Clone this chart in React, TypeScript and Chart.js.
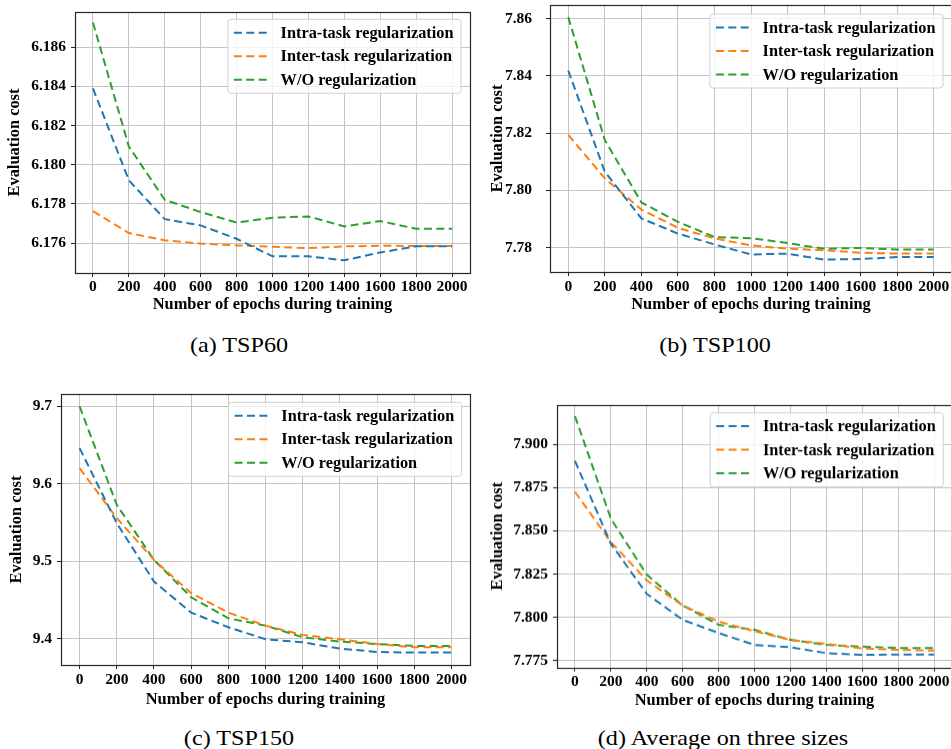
import React, { useEffect, useRef } from "react";
import { Chart, registerables } from "chart.js";

Chart.register(...registerables);

// ---------- data ----------
const EPOCHS = [0, 200, 400, 600, 800, 1000, 1200, 1400, 1600, 1800, 2000];
const SERIES_LABELS = ["Intra-task regularization", "Inter-task regularization", "W/O regularization"];
const SERIES_COLORS = ["#1f77b4", "#ff7f0e", "#2ca02c"];

// (a) TSP60
const TSP60_INTRA = [6.1839, 6.1792, 6.17722, 6.1769, 6.17622, 6.17532, 6.17532, 6.17512, 6.17552, 6.17583, 6.17583];
const TSP60_INTER = [6.17763, 6.17651, 6.17614, 6.17597, 6.17588, 6.17581, 6.17574, 6.17583, 6.17586, 6.17585, 6.17585];
const TSP60_WO = [6.18726, 6.18093, 6.17821, 6.17758, 6.17705, 6.17729, 6.17736, 6.17685, 6.17712, 6.17673, 6.17673];
const TSP60_YTICKS = [6.176, 6.178, 6.18, 6.182, 6.184, 6.186];

// (b) TSP100
const TSP100_INTRA = [7.8419, 7.8065, 7.7902, 7.7849, 7.7811, 7.7776, 7.7779, 7.7758, 7.776, 7.7767, 7.7767];
const TSP100_INTER = [7.8194, 7.8042, 7.7933, 7.7869, 7.7832, 7.7808, 7.7796, 7.7791, 7.7782, 7.7779, 7.7779];
const TSP100_WO = [7.8606, 7.8176, 7.7958, 7.789, 7.7837, 7.7833, 7.7816, 7.7796, 7.7799, 7.7793, 7.7793];
const TSP100_YTICKS = [7.78, 7.8, 7.82, 7.84, 7.86];

// (c) TSP150
const TSP150_INTRA = [9.6462, 9.5494, 9.4741, 9.434, 9.4151, 9.3996, 9.3957, 9.3875, 9.3832, 9.3824, 9.3824];
const TSP150_INTER = [9.6204, 9.5558, 9.502, 9.459, 9.434, 9.4172, 9.4052, 9.3996, 9.3935, 9.3892, 9.3892];
const TSP150_WO = [9.7, 9.573, 9.502, 9.4538, 9.4267, 9.4172, 9.4022, 9.3966, 9.3935, 9.391, 9.391];
const TSP150_YTICKS = [9.4, 9.5, 9.6, 9.7];

// (d) Average on three sizes
const AVG_INTRA = [7.8905, 7.8426, 7.8136, 7.7986, 7.791, 7.7841, 7.7827, 7.7793, 7.7783, 7.7785, 7.7785];
const AVG_INTER = [7.8726, 7.8436, 7.8214, 7.8069, 7.7976, 7.792, 7.787, 7.7847, 7.7821, 7.7812, 7.7808];
const AVG_WO = [7.9164, 7.8571, 7.8247, 7.8069, 7.7957, 7.7928, 7.787, 7.7841, 7.7831, 7.7823, 7.7823];
const AVG_YTICKS = [7.775, 7.8, 7.825, 7.85, 7.875, 7.9];

const X_TITLE = "Number of epochs during training";
const Y_TITLE = "Evaluation cost";
const CAPTIONS = ["(a) TSP60", "(b) TSP100", "(c) TSP150", "(d) Average on three sizes"];

// ---------- style ----------
const FONT = "'Liberation Serif', 'Times New Roman', serif";
const TICK_SIZE = 15.5;
const TITLE_SIZE = 16.4;
const LEGEND_SIZE = 16.3;
const TICK_LEN = 4;
const GRID = "#c4c4c4";
const DASH = [8, 4.4];

type Geo = {
  canvasLeft: number;
  canvasWidth: number;
  L: number; T: number; R: number; B: number;
  yLabelRight: number; yTitleX: number;
  xTickY: number; xTitleY: number;
  legTop: number; legRight: number;
};

type PanelProps = {
  geo: Geo;
  series: number[][];
  yTicks: number[];
  yMin: number;
  yMax: number;
  decimals: number;
};

function Panel({ geo, series, yTicks, yMin, yMax, decimals }: PanelProps) {
  const ref = useRef<HTMLCanvasElement | null>(null);
  const canvasTop = geo.T - 12;
  const canvasBottom = geo.xTitleY + 20;
  const canvasHeight = canvasBottom - canvasTop;

  useEffect(() => {
    if (!ref.current) return;
    const tickLh = TICK_SIZE * 1.2;
    const titleLh = TITLE_SIZE * 1.2;

    const framePlugin = {
      id: "frame",
      afterDatasetsDraw(chart: any) {
        const { ctx, chartArea } = chart;
        ctx.save();
        ctx.strokeStyle = "#262626";
        ctx.lineWidth = 1.2;
        ctx.setLineDash([]);
        ctx.strokeRect(
          Math.round(chartArea.left) + 0.5,
          Math.round(chartArea.top) + 0.5,
          Math.round(chartArea.right - chartArea.left),
          Math.round(chartArea.bottom - chartArea.top)
        );
        ctx.restore();
      },
    };

    const legendPlugin = {
      id: "boxLegend",
      afterDraw(chart: any) {
        const { ctx, chartArea } = chart;
        const ds = chart.data.datasets;
        ctx.save();
        ctx.font = `bold ${LEGEND_SIZE}px ${FONT}`;
        const textW = Math.max(...ds.map((d: any) => ctx.measureText(d.label).width));
        const padL = 6, handle = 34.4, gap = 12.3, padR = 7.5, padT = 13.4, rowH = 23.5, padB = 13.6;
        const w = padL + handle + gap + textW + padR;
        const h = padT + rowH * (ds.length - 1) + padB;
        const x = chartArea.right - geo.legRight - w;
        const y = chartArea.top + geo.legTop;
        ctx.beginPath();
        (ctx as any).roundRect(x, y, w, h, 3);
        ctx.fillStyle = "rgba(255,255,255,0.8)";
        ctx.fill();
        ctx.strokeStyle = "#d0d0d0";
        ctx.lineWidth = 1;
        ctx.stroke();
        ds.forEach((d: any, i: number) => {
          const cy = y + padT + rowH * i;
          ctx.beginPath();
          ctx.setLineDash(DASH);
          ctx.strokeStyle = d.borderColor;
          ctx.lineWidth = 2;
          ctx.moveTo(x + padL, cy);
          ctx.lineTo(x + padL + handle, cy);
          ctx.stroke();
          ctx.setLineDash([]);
          ctx.fillStyle = "#000";
          ctx.textBaseline = "middle";
          ctx.textAlign = "left";
          ctx.fillText(d.label, x + padL + handle + gap, cy + 1);
        });
        ctx.restore();
      },
    };

    const chart = new Chart(ref.current, {
      type: "line",
      data: {
        datasets: series.map((vals, i) => ({
          label: SERIES_LABELS[i],
          data: EPOCHS.map((x, j) => ({ x, y: vals[j] })),
          borderColor: SERIES_COLORS[i],
          backgroundColor: SERIES_COLORS[i],
          borderWidth: 2,
          borderDash: DASH,
          pointRadius: 0,
          fill: false,
          tension: 0,
        })),
      },
      options: {
        responsive: false,
        maintainAspectRatio: false,
        animation: false,
        events: [],
        layout: {
          padding: {
            top: geo.T - canvasTop,
            left: 0,
            right: geo.canvasLeft + geo.canvasWidth - geo.R,
            bottom: 0,
          },
        },
        plugins: {
          legend: { display: false },
          tooltip: { enabled: false },
        },
        scales: {
          x: {
            type: "linear",
            min: -100,
            max: 2100,
            afterBuildTicks: (s: any) => {
              s.ticks = EPOCHS.map((v) => ({ value: v }));
            },
            afterFit: (s: any) => {
              s.height = canvasBottom - geo.B;
              s.paddingLeft = 0;
              s.paddingRight = 0;
            },
            ticks: {
              autoSkip: false,
              maxRotation: 0,
              minRotation: 0,
              color: "#000",
              font: { family: FONT, size: TICK_SIZE, weight: "bold" },
              padding: geo.xTickY - geo.B - TICK_LEN - tickLh / 2,
              callback: (v: any) => String(v),
            },
            grid: { color: GRID, lineWidth: 1, tickLength: TICK_LEN, tickColor: "#222", drawTicks: true },
            border: { display: false },
            title: {
              display: true,
              text: X_TITLE,
              color: "#000",
              font: { family: FONT, size: TITLE_SIZE, weight: "bold" },
              padding: { top: 0, bottom: canvasBottom - geo.xTitleY - titleLh / 2 },
            },
          },
          y: {
            type: "linear",
            min: yMin,
            max: yMax,
            afterBuildTicks: (s: any) => {
              s.ticks = yTicks.map((v) => ({ value: v }));
            },
            afterFit: (s: any) => {
              s.width = geo.L - geo.canvasLeft;
              s.paddingTop = 0;
              s.paddingBottom = 0;
            },
            ticks: {
              autoSkip: false,
              color: "#000",
              font: { family: FONT, size: TICK_SIZE, weight: "bold" },
              padding: geo.L - geo.yLabelRight - TICK_LEN,
              callback: (v: any) => Number(v).toFixed(decimals),
            },
            grid: { color: GRID, lineWidth: 1, tickLength: TICK_LEN, tickColor: "#222", drawTicks: true },
            border: { display: false },
            title: {
              display: true,
              text: Y_TITLE,
              color: "#000",
              font: { family: FONT, size: TITLE_SIZE, weight: "bold" },
              padding: { top: geo.yTitleX - geo.canvasLeft - titleLh / 2, bottom: 0 },
            },
          },
        },
      } as any,
      plugins: [framePlugin, legendPlugin],
    });
    return () => chart.destroy();
  }, []);

  return (
    <canvas
      ref={ref}
      width={geo.canvasWidth}
      height={canvasHeight}
      style={{
        position: "absolute",
        left: geo.canvasLeft,
        top: canvasTop,
        width: geo.canvasWidth,
        height: canvasHeight,
      }}
    />
  );
}

const GEO_A: Geo = { canvasLeft: 0, canvasWidth: 475, L: 75, T: 12, R: 470, B: 273, yLabelRight: 66, yTitleX: 15, xTickY: 287, xTitleY: 305, legTop: 7.3, legRight: 9 };
const GEO_B: Geo = { canvasLeft: 475, canvasWidth: 495, L: 550, T: 5, R: 952, B: 272, yLabelRight: 532, yTitleX: 498, xTickY: 287, xTitleY: 305, legTop: 9, legRight: 9 };
const GEO_C: Geo = { canvasLeft: 0, canvasWidth: 475, L: 61, T: 394, R: 470, B: 665, yLabelRight: 52, yTitleX: 16.5, xTickY: 680, xTitleY: 700, legTop: 8.3, legRight: 8.3 };
const GEO_D: Geo = { canvasLeft: 475, canvasWidth: 495, L: 557, T: 405, R: 952, B: 667, yLabelRight: 548, yTitleX: 498, xTickY: 681.5, xTitleY: 700.5, legTop: 7.7, legRight: 8.7 };

const CAPTION_POS = [
  { x: 238.5, y: 345 },
  { x: 714.5, y: 345 },
  { x: 239, y: 738 },
  { x: 723, y: 738 },
];

export default function App() {
  return (
    <div
      style={{
        position: "fixed",
        left: 0,
        top: 0,
        width: 951,
        height: 749,
        overflow: "hidden",
        background: "#fff",
      }}
    >
      <Panel geo={GEO_A} series={[TSP60_INTRA, TSP60_INTER, TSP60_WO]} yTicks={TSP60_YTICKS} yMin={6.17447} yMax={6.1878} decimals={3} />
      <Panel geo={GEO_B} series={[TSP100_INTRA, TSP100_INTER, TSP100_WO]} yTicks={TSP100_YTICKS} yMin={7.77147} yMax={7.8648} decimals={2} />
      <Panel geo={GEO_C} series={[TSP150_INTRA, TSP150_INTER, TSP150_WO]} yTicks={TSP150_YTICKS} yMin={9.3664} yMax={9.716} decimals={1} />
      <Panel geo={GEO_D} series={[AVG_INTRA, AVG_INTER, AVG_WO]} yTicks={AVG_YTICKS} yMin={7.7711} yMax={7.9228} decimals={3} />
      {CAPTIONS.map((c, i) => (
        <div
          key={c}
          style={{
            position: "absolute",
            left: CAPTION_POS[i].x,
            top: CAPTION_POS[i].y - 10.5,
            transform: "translateX(-50%) scaleX(1.15)",
            fontFamily: FONT,
            fontSize: 21,
            lineHeight: 1,
            whiteSpace: "nowrap",
            color: "#000",
          }}
        >
          {c}
        </div>
      ))}
    </div>
  );
}
